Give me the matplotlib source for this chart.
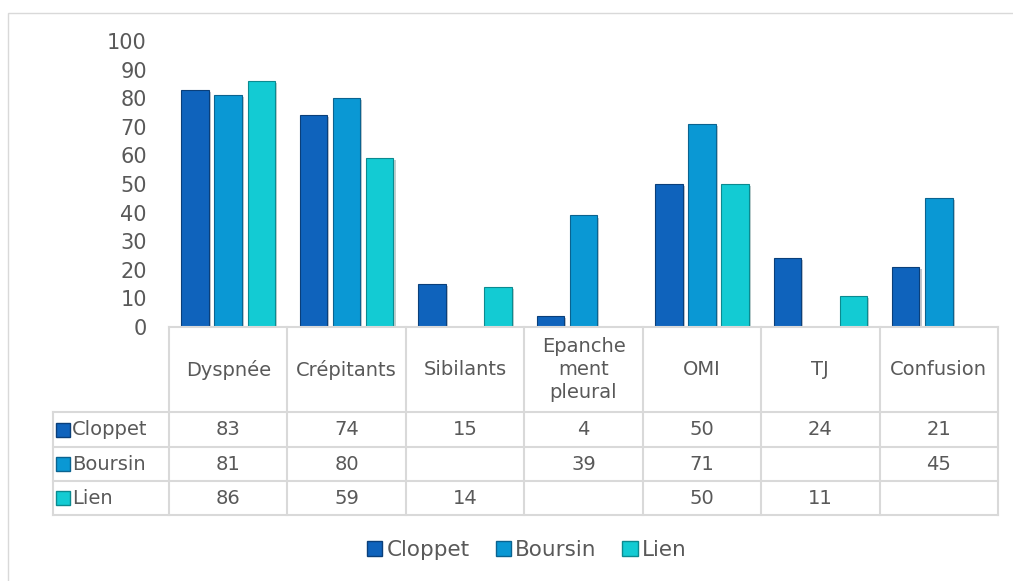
import numpy as np
import matplotlib.pyplot as plt
import matplotlib.patheffects as pe
from matplotlib.patches import Patch, Rectangle

# Data
categories = ['Dyspnée', 'Crépitants', 'Sibilants', 'Epanche\nment\npleural', 'OMI', 'TJ', 'Confusion']
series_names = ['Cloppet', 'Boursin', 'Lien']
cloppet = [83, 74, 15, 4, 50, 24, 21]
boursin = [81, 80, np.nan, 39, 71, np.nan, 45]
lien = [86, 59, 14, np.nan, 50, 11, np.nan]
yticks = [0, 10, 20, 30, 40, 50, 60, 70, 80, 90, 100]

colors = ['#0F63BC', '#0A98D4', '#13CBD3']
edges = ['#0A3F7A', '#0A6390', '#0B8A90']
text_col = '#595959'
grid_col = '#D9D9D9'

W, H = 1013, 581
fig = plt.figure(figsize=(W / 100, H / 100), dpi=100)

# chart frame (left and top edges visible)
fig.patches.append(Rectangle((8 / W, -0.1), 1.2, 1.1 - 13 / H, transform=fig.transFigure,
                             fill=False, edgecolor=grid_col, linewidth=1))

# bar axes (pixel layout)
left, right, top, bottom = 169, 998, 41, 327
ax = fig.add_axes([left / W, 1 - bottom / H, (right - left) / W, (bottom - top) / H])
x = np.arange(len(categories))
width = 0.232
step = 0.279
shadow = [pe.SimplePatchShadow(offset=(1.5, -1.5), alpha=0.25), pe.Normal()]
for i, vals in enumerate([cloppet, boursin, lien]):
    bars = ax.bar(x + (i - 1) * step, vals, width, color=colors[i], edgecolor=edges[i], linewidth=0.8)
    for b in bars:
        b.set_path_effects(shadow)
ax.set_xlim(-0.5, len(categories) - 0.5)
ax.set_ylim(0, 100)
ax.set_yticks(yticks)
ax.set_yticklabels([str(t) for t in yticks], fontsize=15, color=text_col)
ax.tick_params(axis='y', length=0, pad=16)
ax.set_xticks([])
for s in ax.spines.values():
    s.set_visible(False)

# data table below the bars
tleft = 53
rows_y = [327, 412, 447, 481, 515]
tab = fig.add_axes([tleft / W, 1 - rows_y[-1] / H, (right - tleft) / W, (rows_y[-1] - rows_y[0]) / H])
cw = (right - left) / len(categories)
tab.set_xlim(-0.5 - (left - tleft) / cw, len(categories) - 0.5)
tab.set_ylim(rows_y[-1], rows_y[0])
tab.axis('off')
lw = 1.5
# horizontal lines
tab.plot([-0.5, len(categories) - 0.5], [rows_y[0]] * 2, color=grid_col, lw=lw, clip_on=False)
for yy in rows_y[1:]:
    tab.plot(tab.get_xlim(), [yy] * 2, color=grid_col, lw=lw, clip_on=False)
# vertical lines
for k in range(len(categories) + 1):
    tab.plot([k - 0.5] * 2, [rows_y[0], rows_y[-1]], color=grid_col, lw=lw, clip_on=False)
tab.plot([tab.get_xlim()[0]] * 2, [rows_y[1], rows_y[-1]], color=grid_col, lw=lw, clip_on=False)

# header text
for k, c in enumerate(categories):
    tab.text(k, (rows_y[0] + rows_y[1]) / 2, c, ha='center', va='center', fontsize=14,
             color=text_col, linespacing=1.25)

# rows
xl = tab.get_xlim()[0]
for r, (name, vals) in enumerate(zip(series_names, [cloppet, boursin, lien])):
    yc = (rows_y[r + 1] + rows_y[r + 2]) / 2
    tab.plot(xl + 0.085, yc, marker='s', markersize=10, color=colors[r],
             markeredgecolor=edges[r], clip_on=False)
    tab.text(xl + 0.16, yc, name, ha='left', va='center', fontsize=14, color=text_col)
    for k, v in enumerate(vals):
        if not np.isnan(v):
            tab.text(k, yc, str(int(v)), ha='center', va='center', fontsize=14, color=text_col)

# legend
handles = [Patch(facecolor=colors[i], edgecolor=edges[i], label=series_names[i]) for i in range(3)]
fig.legend(handles=handles, loc='center', bbox_to_anchor=(527 / W, 1 - 550 / H), ncol=3,
           frameon=False, fontsize=15.5, labelcolor=text_col, handlelength=0.7, handleheight=0.7,
           handletextpad=0.2, columnspacing=1.2)

fig.savefig('out.png', dpi=100)
